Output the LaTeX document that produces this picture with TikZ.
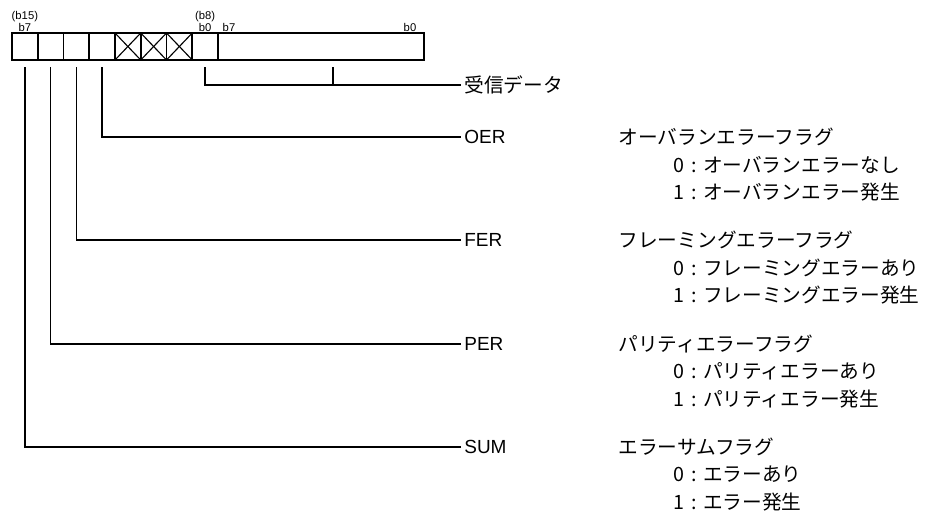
\documentclass[tikz,border=0pt]{standalone}
\usepackage{fontspec}
\setmainfont{Liberation Sans}
\newfontfamily\jp{Noto Sans CJK JP}
\usetikzlibrary{positioning}
\def\cellw{0.644cm}
\def\cellh{0.675cm}

\begin{document}
\begin{tikzpicture}[x=0.025cm,y=-0.025cm,line width=0.8pt]
    \tikzstyle{cell}=[draw,line width=1.3pt,minimum width=\cellw,minimum height=\cellh,inner sep=0pt,outer sep=0pt]
    \tikzstyle{bitno}=[font=\fontsize{8}{9}\selectfont,inner sep=0pt]
    \tikzstyle{wire}=[line width=0.9pt]
    \tikzstyle{field}=[anchor=west,inner sep=2pt,font=\fontsize{13.5}{16}\selectfont]
    \tikzstyle{desc}=[anchor=west,inner sep=0pt,font=\jp\fontsize{14}{16}\selectfont]
    \useasboundingbox (0,0) rectangle (928,512);

    % the register, b15 ... b8 then the data byte
    \foreach \i in {1,...,8}
        \node[cell] (c\i) at ({12+25.75*(\i-0.5)},46.5) {};
    \node[cell,minimum width=5.15cm,anchor=west] (data) at (c8.east) {};

    % unused bits
    \foreach \i in {5,6,7}
        \draw (c\i.north west) -- (c\i.south east) (c\i.south west) -- (c\i.north east);

    % bit numbers
    \node[bitno,above=0.03cm of c1] (hi7) {b7};
    \node[bitno,above=0.01cm of hi7] (hi15) {(b15)};
    \node[bitno,above=0.03cm of c8] (hi0) {b0};
    \node[bitno,above=0.01cm of hi0] (hi8) {(b8)};
    \node[bitno,anchor=south] (lo7) at (229,32) {b7};
    \node[bitno,anchor=south] (lo0) at (410,32) {b0};

    % received data
    \node[field,font=\jp\fontsize{14}{16}\selectfont] (rx) at (461,85) {受信データ};
    \coordinate (tick) at ([xshift=0.3cm,yshift=-1.8mm]data.south);
    \draw[wire] ([yshift=-1.8mm]c8.south) |- (rx.west);
    \draw[wire] (tick) -- (tick |- rx.west);

    % error flags
    \foreach \nm/\lbl/\cl/\yy/\ttl/\za/\zb in {
        oer/OER/4/137/オーバランエラーフラグ/オーバランエラーなし/オーバランエラー発生,
        fer/FER/3/240/フレーミングエラーフラグ/フレーミングエラーあり/フレーミングエラー発生,
        per/PER/2/344/パリティエラーフラグ/パリティエラーあり/パリティエラー発生,
        sum/SUM/1/447/エラーサムフラグ/エラーあり/エラー発生}
    {
        \node[field] (\nm) at (461,\yy) {\lbl};
        \node[desc] (t-\nm) at (618,\yy) {\ttl};
        \node[desc] (z-\nm) at (673,\yy+27.5) {0\,\,:\,\,\za};
        \node[desc] (o-\nm) at (673,\yy+55) {1\,\,:\,\,\zb};
        \draw[wire] ([yshift=-1.8mm]c\cl.south) |- (\nm.west);
    }
\end{tikzpicture}
\end{document}
